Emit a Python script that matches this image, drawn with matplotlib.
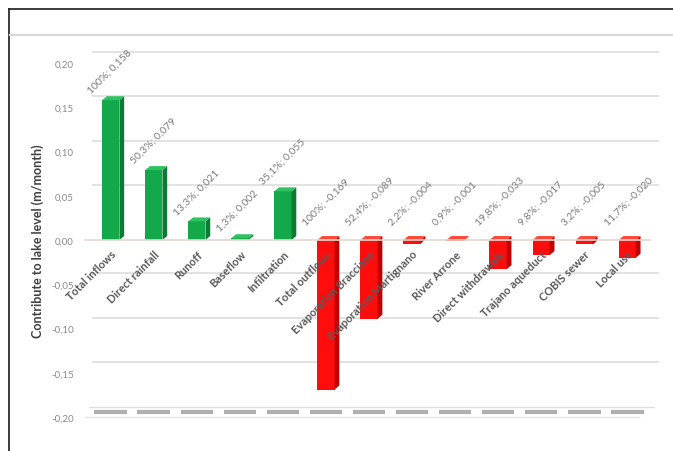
import matplotlib
matplotlib.use("Agg")
import matplotlib.pyplot as plt
from matplotlib.patches import Polygon
from matplotlib.transforms import ScaledTranslation
from matplotlib.lines import Line2D
import numpy as np

# Monthly water balance terms of the lake
categories = ["Total inflows", "Direct rainfall", "Runoff", "Baseflow", "Infiltration",
              "Total outflows", "Evaporation Bracciano", "Evaporation Martignano",
              "River Arrone", "Direct withdrawals", "Trajano aqueduct", "COBIS sewer",
              "Local use"]
values = [0.158, 0.079, 0.021, 0.002, 0.055,
          -0.169, -0.089, -0.004, -0.001, -0.033, -0.017, -0.005, -0.020]
shares = [100, 50.3, 13.3, 1.3, 35.1,
          100, 52.4, 2.2, 0.9, 19.8, 9.8, 3.2, 11.7]
yticks = [0.20, 0.15, 0.10, 0.05, 0.00, -0.05, -0.10, -0.15, -0.20]

GREEN = "#13a84a"
GREEN_SIDE = "#0b7a33"
GREEN_TOP = "#2fc263"
RED = "#ff0d0d"
RED_SIDE = "#c00000"
RED_TOP = "#ff4a3a"

def comma(v, fmt):
    return format(v, fmt).replace(".", ",")

fig = plt.figure(figsize=(6.73, 4.52), dpi=100)
ax = fig.add_axes([85 / 673, 1 - 418 / 452, 565 / 673, 354 / 452])
ax.set_xlim(-0.6, 12.53)
ax.set_ylim(-0.2, 0.2)
ax.set_axisbelow(False)

x = np.arange(len(categories))
w = 0.40
dx, dy = 0.11, 0.0045

# back-wall gridlines, shifted up and to the right for depth
back = ax.get_yaxis_transform() + ScaledTranslation(8 / 100, 11 / 100, fig.dpi_scale_trans)
for t in yticks[:-1]:
    if t == 0:
        continue
    ax.add_line(Line2D([0.0, 1.0], [t, t], transform=back, color="#e3e3e3",
                       lw=1.4, zorder=0, clip_on=False))

# floor edge at the bottom of the scale
floor = ax.transData + ScaledTranslation(0, 5 / 100, fig.dpi_scale_trans)
ax.hlines([-0.2] * len(x), x - 0.38, x + 0.38, colors="#b0b0b0", lw=3.0,
          transform=floor, zorder=0, clip_on=False)
floor_back = ax.get_yaxis_transform() + ScaledTranslation(4 / 100, 10 / 100, fig.dpi_scale_trans)
ax.add_line(Line2D([0.0, 1.0], [-0.2, -0.2], transform=floor_back, color="#dedede",
                   lw=1.0, zorder=0, clip_on=False))
ax.add_line(Line2D([0.0, 0.98], [-0.2, -0.2], transform=ax.get_yaxis_transform(),
                   color="#e6e6e6", lw=1.0, zorder=0, clip_on=False))

colors = [GREEN] * 5 + [RED] * 8
sides = [GREEN_SIDE] * 5 + [RED_SIDE] * 8
tops = [GREEN_TOP] * 5 + [RED_TOP] * 8

bars = ax.bar(x, values, width=w, color=colors, zorder=2, linewidth=0)
for xi, v, sc, tc in zip(x, values, sides, tops):
    r = xi + w / 2
    l = xi - w / 2
    top_y = max(v, 0)
    ax.add_patch(Polygon([(r, 0), (r, v), (r + dx, v + dy), (r + dx, dy)],
                         closed=True, color=sc, lw=0, zorder=2))
    ax.add_patch(Polygon([(l, top_y), (r, top_y), (r + dx, top_y + dy), (l + dx, top_y + dy)],
                         closed=True, color=tc, lw=0, zorder=2))

# value labels
for xi, v, s in zip(x, values, shares):
    pct = "100%" if s == 100 else comma(s, ".1f") + "%"
    txt = f"{pct}; {comma(v, '.3f')}"
    base = v + dy if v >= 0 else 0
    lift = 1 if v >= 0 else 10
    ax.annotate(txt, (xi - 0.42, base), xytext=(0, lift), textcoords="offset points",
                rotation=45, rotation_mode="anchor", ha="left", va="bottom",
                fontsize=7.5, family="Lato", color="#7a7a7a", zorder=4)

# category axis sits on the zero line
ax.spines["bottom"].set_position(("data", 0))
ax.spines["bottom"].set_color("#e4d8d0")
ax.spines["bottom"].set_linewidth(1.2)
for s in ("left", "right", "top"):
    ax.spines[s].set_visible(False)

ax.set_xticks(x)
ax.set_xticklabels(categories, rotation=45, ha="right", rotation_mode="anchor",
                   fontsize=8, family="Lato", fontweight="bold", color="#595959")
ax.tick_params(axis="x", length=0, pad=6)

ax.set_yticks(yticks)
ax.set_yticklabels([comma(t, ".2f") for t in yticks], fontsize=7, family="Lato",
                   color="#8a8a8a")
ax.tick_params(axis="y", length=0, pad=8)

fig.text(38 / 673, 1 - 241 / 452, "Contribute to lake level (m/month)", rotation=90,
         ha="center", va="center", fontsize=9, family="Lato", fontweight="bold",
         color="#404040")

# outer frame and header rule
fig.add_artist(Line2D([9 / 673, 1.0], [1 - 10 / 452, 1 - 10 / 452], color="#1a1a1a",
                      lw=1.2, transform=fig.transFigure))
fig.add_artist(Line2D([9 / 673, 9 / 673], [0.0, 1 - 10 / 452], color="#1a1a1a",
                      lw=1.2, transform=fig.transFigure))
fig.add_artist(Line2D([10 / 673, 1.0], [1 - 36 / 452, 1 - 36 / 452], color="#d8d8d8",
                      lw=1.6, transform=fig.transFigure))

fig.savefig("out.png", dpi=100)
